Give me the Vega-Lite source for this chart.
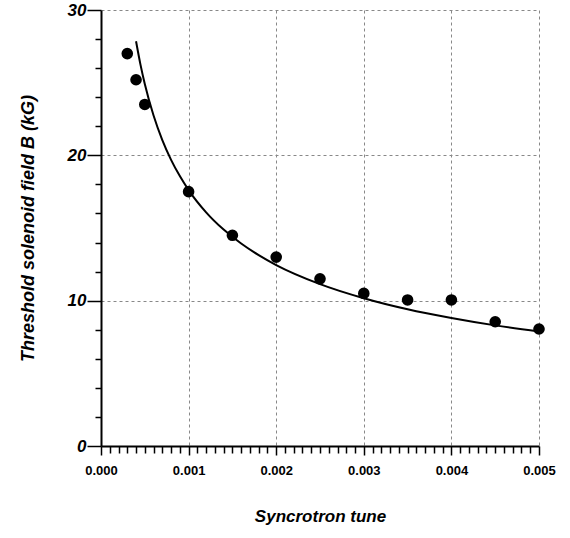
{
  "$schema": "https://vega.github.io/schema/vega-lite/v6.json",
  "width": 438,
  "height": 436,
  "autosize": {"type": "none"},
  "padding": {"left": 101, "top": 10, "right": 31, "bottom": 92},
  "background": "white",
  "view": {"stroke": null},
  "datasets": {
    "points": [
      {"tune": 0.0003, "B": 27.0},
      {"tune": 0.0004, "B": 25.2},
      {"tune": 0.0005, "B": 23.5},
      {"tune": 0.001, "B": 17.5},
      {"tune": 0.0015, "B": 14.5},
      {"tune": 0.002, "B": 13.0},
      {"tune": 0.0025, "B": 11.5},
      {"tune": 0.003, "B": 10.5},
      {"tune": 0.0035, "B": 10.05},
      {"tune": 0.004, "B": 10.05},
      {"tune": 0.0045, "B": 8.55},
      {"tune": 0.005, "B": 8.05}
    ],
    "fit": [
      {"tune": 0.0004, "B": 27.85},
      {"tune": 0.00045, "B": 26.26},
      {"tune": 0.0005, "B": 24.91},
      {"tune": 0.0006, "B": 22.74},
      {"tune": 0.0007, "B": 21.05},
      {"tune": 0.0008, "B": 19.69},
      {"tune": 0.0009, "B": 18.57},
      {"tune": 0.001, "B": 17.61},
      {"tune": 0.0012, "B": 16.08},
      {"tune": 0.0014, "B": 14.89},
      {"tune": 0.0016, "B": 13.93},
      {"tune": 0.0018, "B": 13.13},
      {"tune": 0.002, "B": 12.45},
      {"tune": 0.0025, "B": 11.14},
      {"tune": 0.003, "B": 10.17},
      {"tune": 0.0035, "B": 9.41},
      {"tune": 0.004, "B": 8.81},
      {"tune": 0.0045, "B": 8.30},
      {"tune": 0.005, "B": 7.88}
    ]
  },
  "config": {
    "font": "Liberation Sans",
    "axis": {
      "domainColor": "black",
      "domainWidth": 2,
      "tickColor": "black",
      "labelColor": "black",
      "titleColor": "black",
      "gridColor": "#888888",
      "gridDash": [3, 3],
      "gridWidth": 1
    }
  },
  "layer": [
    {
      "data": {"name": "fit"},
      "mark": {"type": "line", "color": "black", "strokeWidth": 2, "interpolate": "monotone"},
      "encoding": {
        "x": {
          "field": "tune",
          "type": "quantitative",
          "scale": {"domain": [0, 0.005], "nice": false},
          "axis": {
            "tickCount": 200,
            "values": [0, 0.0001, 0.0002, 0.0003, 0.0004, 0.0005, 0.0006, 0.0007, 0.0008, 0.0009, 0.001, 0.0011, 0.0012, 0.0013, 0.0014, 0.0015, 0.0016, 0.0017, 0.0018, 0.0019, 0.002, 0.0021, 0.0022, 0.0023, 0.0024, 0.0025, 0.0026, 0.0027, 0.0028, 0.0029, 0.003, 0.0031, 0.0032, 0.0033, 0.0034, 0.0035, 0.0036, 0.0037, 0.0038, 0.0039, 0.004, 0.0041, 0.0042, 0.0043, 0.0044, 0.0045, 0.0046, 0.0047, 0.0048, 0.0049, 0.005],
            "labelExpr": "abs(datum.value*1000 - round(datum.value*1000)) < 1e-6 ? format(datum.value, '.3f') : ''",
            "labelFlush": false,
            "labelOverlap": false,
            "labelFont": "Liberation Sans",
            "labelFontWeight": "bold",
            "labelFontSize": 13,
            "labelPadding": 9,
            "tickSize": {"condition": {"test": "abs(datum.value*1000 - round(datum.value*1000)) < 1e-6", "value": 9}, "value": 7},
            "tickWidth": 1.5,
            "grid": true,
            "gridOpacity": {"condition": {"test": "abs(datum.value*1000 - round(datum.value*1000)) < 1e-6 && datum.value > 0", "value": 1}, "value": 0},
            "title": "Syncrotron tune",
            "titleFont": "Liberation Sans",
            "titleFontSize": 17,
            "titleFontStyle": "italic",
            "titleFontWeight": "bold",
            "titlePadding": 31
          }
        },
        "y": {
          "field": "B",
          "type": "quantitative",
          "scale": {"domain": [0, 30], "nice": false},
          "axis": {
            "tickCount": 200,
            "values": [0, 2, 4, 6, 8, 10, 12, 14, 16, 18, 20, 22, 24, 26, 28, 30],
            "labelExpr": "datum.value % 10 == 0 ? datum.value : ''",
            "labelOverlap": false,
            "labelFlush": false,
            "labelFont": "Liberation Sans",
            "labelFontWeight": "bold",
            "labelFontStyle": "italic",
            "labelFontSize": 17,
            "labelPadding": 1,
            "tickSize": {"condition": {"test": "datum.value % 10 == 0", "value": 14}, "value": 6},
            "tickWidth": 1.5,
            "grid": true,
            "gridOpacity": {"condition": {"test": "datum.value % 10 == 0 && datum.value > 0", "value": 1}, "value": 0},
            "title": "Threshold solenoid field B (kG)",
            "titleFont": "Liberation Sans",
            "titleFontSize": 18,
            "titleFontStyle": "italic",
            "titleFontWeight": "bold",
            "titlePadding": 30
          }
        }
      }
    },
    {
      "data": {"name": "points"},
      "mark": {"type": "point", "filled": true, "color": "black", "opacity": 1, "size": 135},
      "encoding": {
        "x": {"field": "tune", "type": "quantitative"},
        "y": {"field": "B", "type": "quantitative"}
      }
    }
  ]
}
